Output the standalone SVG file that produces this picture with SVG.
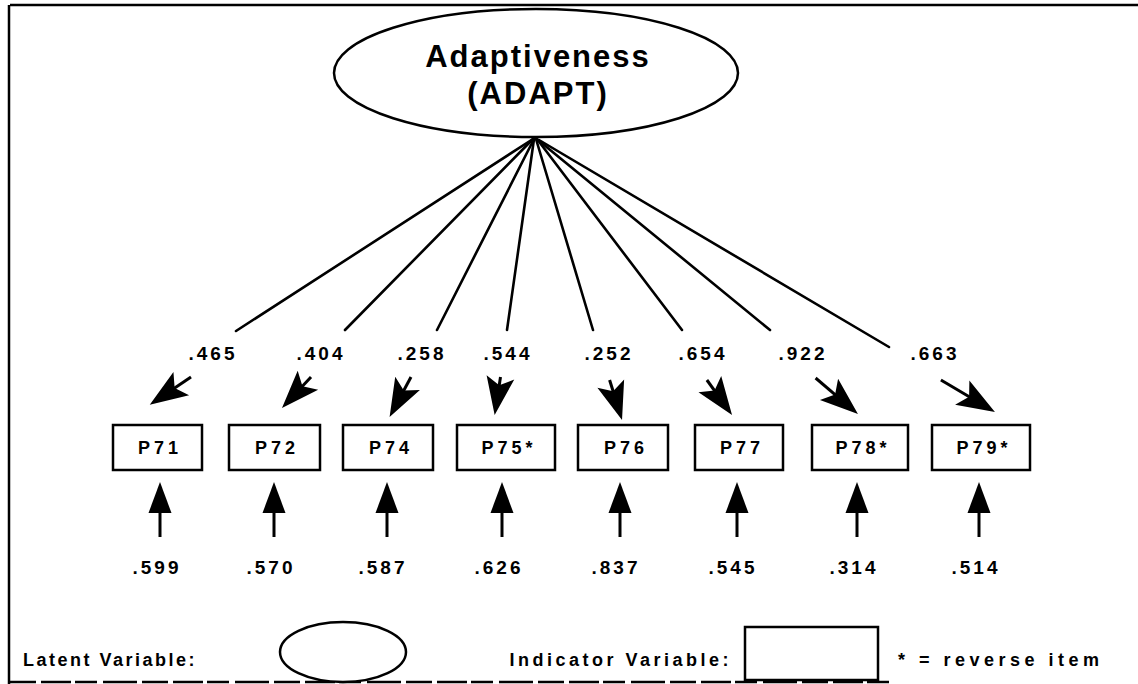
<svg xmlns="http://www.w3.org/2000/svg" width="1138" height="684" viewBox="0 0 1138 684">
  <style>
    .t { font-family: "Liberation Sans", Arial, sans-serif; font-weight: bold; fill: #000; }
    .title { font-size: 31px; letter-spacing: 2px; }
    .lbl { font-size: 19px; letter-spacing: 3px; }
    .box-t { font-size: 18px; letter-spacing: 4px; }
    .leg { font-size: 18px; letter-spacing: 2.5px; }
    .frame { fill: none; stroke: #000; stroke-width: 2.5; }
    .node { fill: #fff; stroke: #000; stroke-width: 2.5; }
    .edge { fill: none; stroke: #000; stroke-width: 2.6; stroke-linecap: round; }
    .stub { fill: none; stroke: #000; stroke-width: 3; }
  </style>
  <defs>
    <!-- barbed head; tip sits 22 units beyond the line end -->
    <marker id="ah" markerUnits="userSpaceOnUse" markerWidth="64" markerHeight="34" viewBox="-22 -17 64 34" refX="0" refY="0" orient="auto">
      <path d="M22,0 L-16,-14 L-8,0 L-16,14 Z" fill="#000"/>
    </marker>
    <marker id="up" markerUnits="userSpaceOnUse" markerWidth="44" markerHeight="30" viewBox="-22 -15 44 30" refX="0" refY="0" orient="auto">
      <path d="M20,0 L-11,-11.5 L-11,11.5 Z" fill="#000"/>
    </marker>
  </defs>

  <rect width="1138" height="684" fill="#fff"/>

  <!-- page frame -->
  <g id="frame">
    <path class="frame" d="M10,5 L1138,5" stroke-width="3"/>
    <path class="frame" d="M9,5 L9,684"/>
    <path class="frame" d="M10,682 L890,682" stroke-dasharray="26 5 30 4 22 6 34 5"/>
  </g>

  <!-- loadings: latent factor to indicators -->
  <g id="connectors">
    <line class="edge" x1="533" y1="139" x2="236" y2="331"/>
    <line class="edge" x1="533" y1="139" x2="345" y2="330"/>
    <line class="edge" x1="534" y1="139" x2="437" y2="330"/>
    <line class="edge" x1="534" y1="139" x2="507" y2="330"/>
    <line class="edge" x1="536" y1="139" x2="593" y2="330"/>
    <line class="edge" x1="537" y1="139" x2="682" y2="330"/>
    <line class="edge" x1="538" y1="140" x2="770" y2="330"/>
    <line class="edge" x1="539" y1="140" x2="889" y2="347"/>

    <line class="stub" x1="191" y1="377" x2="168" y2="392.5" marker-end="url(#ah)"/>
    <line class="stub" x1="311" y1="377" x2="297" y2="392" marker-end="url(#ah)"/>
    <line class="stub" x1="411" y1="377" x2="400" y2="397.5" marker-end="url(#ah)"/>
    <line class="stub" x1="500.5" y1="377" x2="498" y2="393.2" marker-end="url(#ah)"/>
    <line class="stub" x1="609.6" y1="380" x2="615.5" y2="399" marker-end="url(#ah)"/>
    <line class="stub" x1="706.9" y1="380" x2="719.2" y2="397.1" marker-end="url(#ah)"/>
    <line class="stub" x1="815.6" y1="378" x2="841.2" y2="399.8" marker-end="url(#ah)"/>
    <line class="stub" x1="940.9" y1="380" x2="976" y2="400.8" marker-end="url(#ah)"/>

    <!-- error terms -->
    <line class="stub" x1="160" y1="537" x2="160" y2="502" marker-end="url(#up)"/>
    <line class="stub" x1="274" y1="537" x2="274" y2="502" marker-end="url(#up)"/>
    <line class="stub" x1="387" y1="537" x2="387" y2="502" marker-end="url(#up)"/>
    <line class="stub" x1="502" y1="537" x2="502" y2="502" marker-end="url(#up)"/>
    <line class="stub" x1="620" y1="537" x2="620" y2="502" marker-end="url(#up)"/>
    <line class="stub" x1="737" y1="537" x2="737" y2="502" marker-end="url(#up)"/>
    <line class="stub" x1="857" y1="537" x2="857" y2="502" marker-end="url(#up)"/>
    <line class="stub" x1="979" y1="537" x2="979" y2="502" marker-end="url(#up)"/>
  </g>

  <g id="loadings" class="t lbl" text-anchor="middle">
    <text x="213" y="360">.465</text>
    <text x="321" y="360">.404</text>
    <text x="422" y="360">.258</text>
    <text x="508" y="360">.544</text>
    <text x="609" y="360">.252</text>
    <text x="703" y="360">.654</text>
    <text x="803" y="360">.922</text>
    <text x="935" y="360">.663</text>
  </g>

  <g id="errors" class="t lbl" text-anchor="middle">
    <text x="157" y="574">.599</text>
    <text x="271" y="574">.570</text>
    <text x="383" y="574">.587</text>
    <text x="499" y="574">.626</text>
    <text x="616" y="574">.837</text>
    <text x="733" y="574">.545</text>
    <text x="854" y="574">.314</text>
    <text x="976" y="574">.514</text>
  </g>

  <!-- latent factor -->
  <g id="ADAPT">
    <ellipse class="node" cx="536" cy="73" rx="202" ry="64"/>
    <text class="t title" x="538" y="67" text-anchor="middle">Adaptiveness</text>
    <text class="t title" x="538" y="104" text-anchor="middle">(ADAPT)</text>
  </g>

  <!-- indicators -->
  <g id="P71"><rect class="node" x="113" y="425" width="89" height="45"/><text class="t box-t" x="160" y="454" text-anchor="middle">P71</text></g>
  <g id="P72"><rect class="node" x="229" y="425" width="91" height="45"/><text class="t box-t" x="277" y="454" text-anchor="middle">P72</text></g>
  <g id="P74"><rect class="node" x="343" y="425" width="90" height="45"/><text class="t box-t" x="391" y="454" text-anchor="middle">P74</text></g>
  <g id="P75"><rect class="node" x="457" y="425" width="98" height="45"/><text class="t box-t" x="509" y="454" text-anchor="middle">P75*</text></g>
  <g id="P76"><rect class="node" x="578" y="425" width="90" height="45"/><text class="t box-t" x="626" y="454" text-anchor="middle">P76</text></g>
  <g id="P77"><rect class="node" x="695" y="425" width="88" height="45"/><text class="t box-t" x="742" y="454" text-anchor="middle">P77</text></g>
  <g id="P78"><rect class="node" x="812" y="425" width="96" height="45"/><text class="t box-t" x="863" y="454" text-anchor="middle">P78*</text></g>
  <g id="P79"><rect class="node" x="932" y="425" width="98" height="45"/><text class="t box-t" x="984" y="454" text-anchor="middle">P79*</text></g>

  <!-- key -->
  <g id="legend">
    <text class="t leg" x="23" y="666">Latent Variable:</text>
    <ellipse class="node" cx="343" cy="652" rx="63" ry="30"/>
    <text class="t leg" x="732" y="666" text-anchor="end" style="letter-spacing:3.5px">Indicator Variable:</text>
    <rect class="node" x="745" y="627" width="133" height="53"/>
    <text class="t leg" x="898" y="666" style="letter-spacing:4.5px">* = reverse item</text>
  </g>
</svg>
